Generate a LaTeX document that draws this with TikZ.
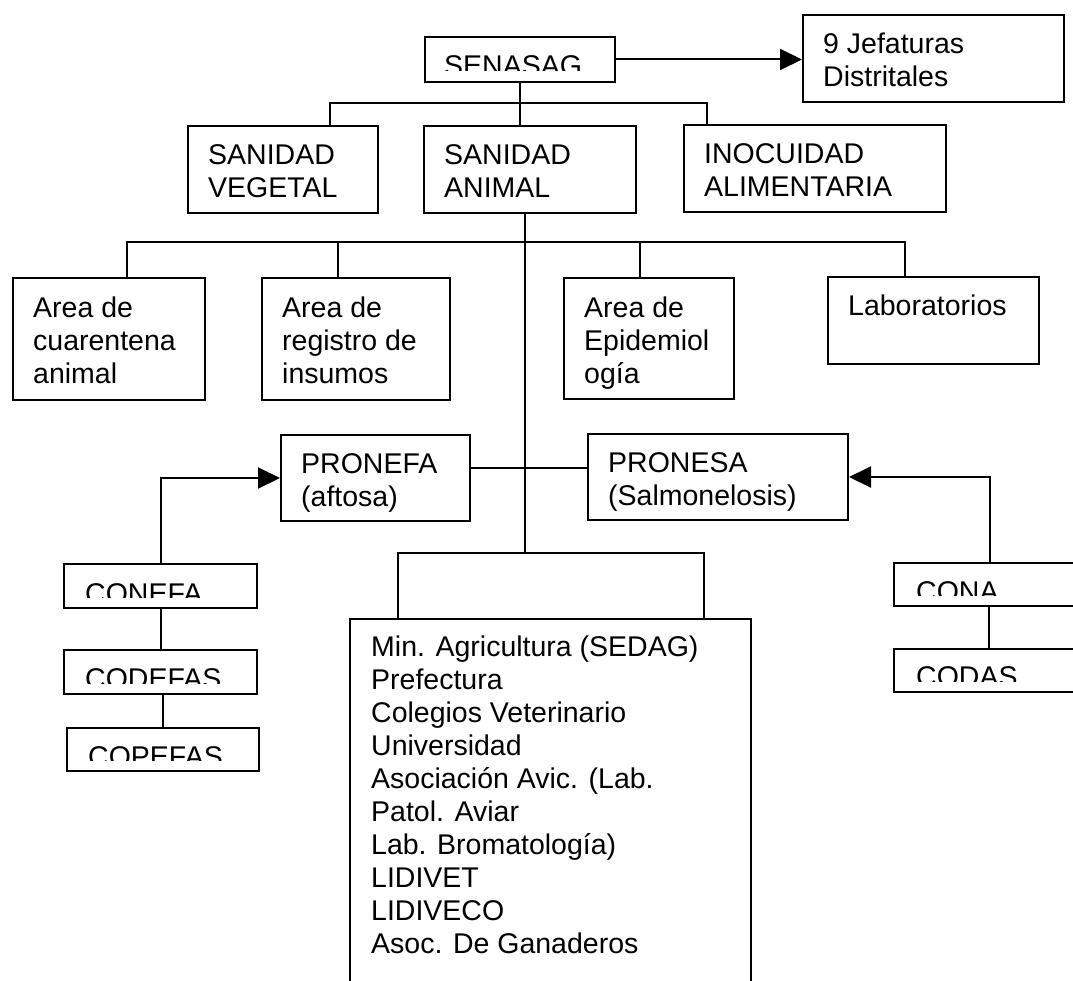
\documentclass[tikz,border=0pt]{standalone}
\usepackage{fontspec}
\setmainfont{Liberation Sans}
\usetikzlibrary{arrows.meta,positioning,calc}

\tikzset{
  orgbox/.style={draw, line width=2pt, anchor=north west, inner sep=0pt},
  txt/.style={anchor=north west, align=left, inner sep=0pt},
  conn/.style={line width=2pt},
  arr/.style={line width=2pt, -{Triangle[length=22pt,width=21pt]}}
}

\begin{document}
\begin{tikzpicture}[x=1pt, y=-1pt, font=\fontsize{28.5}{33}\selectfont]
      \clip (0,0) rectangle (1073,981);
      \fill[white] (0,0) rectangle (1073,981);
      %boxes
      \node[orgbox, minimum width=190pt, minimum height=45pt] (senasag) at (424,36) {};
      \node[orgbox, minimum width=261pt, minimum height=87pt] (jefaturas) at (802,14) {};
      \node[orgbox, minimum width=190pt, minimum height=87pt] (vegetal) at (187,125) {};
      \node[orgbox, minimum width=212pt, minimum height=87pt] (animal) at (423,125) {};
      \node[orgbox, minimum width=262pt, minimum height=87pt] (inocuidad) at (683,124) {};
      \node[orgbox, minimum width=192pt, minimum height=122pt] (cuarentena) at (12,277) {};
      \node[orgbox, minimum width=188pt, minimum height=122pt] (registro) at (261,277) {};
      \node[orgbox, minimum width=170pt, minimum height=121pt] (epidemio) at (563,277) {};
      \node[orgbox, minimum width=211pt, minimum height=87pt] (laboratorios) at (827,276) {};
      \node[orgbox, minimum width=189pt, minimum height=86pt] (pronefa) at (280,434) {};
      \node[orgbox, minimum width=260pt, minimum height=86pt] (pronesa) at (587,433) {};
      \node[orgbox, minimum width=193pt, minimum height=44pt] (conefa) at (63,563) {};
      \node[orgbox, minimum width=193pt, minimum height=44pt] (codefas) at (63,649) {};
      \node[orgbox, minimum width=192pt, minimum height=43pt] (copefas) at (66,727) {};
      \node[orgbox, minimum width=200pt, minimum height=43pt] (cona) at (893,562) {};
      \node[orgbox, minimum width=200pt, minimum height=43pt] (codas) at (893,648) {};
      \node[orgbox, minimum width=401pt, minimum height=400pt] (members) at (349,618) {};
      %texts
      \node[txt] (jefaturas-t) at ([shift={(21pt,-19pt)}]jefaturas.north west) {9 Jefaturas\\Distritales};
      \node[txt] (vegetal-t) at ([shift={(21pt,-19pt)}]vegetal.north west) {SANIDAD\\VEGETAL};
      \node[txt] (animal-t) at ([shift={(21pt,-19pt)}]animal.north west) {SANIDAD\\ANIMAL};
      \node[txt] (inocuidad-t) at ([shift={(21pt,-19pt)}]inocuidad.north west) {INOCUIDAD\\ALIMENTARIA};
      \node[txt] (cuarentena-t) at ([shift={(21pt,-20pt)}]cuarentena.north west) {Area de\\cuarentena\\animal};
      \node[txt] (registro-t) at ([shift={(21pt,-20pt)}]registro.north west) {Area de\\registro de\\insumos};
      \node[txt] (epidemio-t) at ([shift={(21pt,-20pt)}]epidemio.north west) {Area de\\Epidemiol\\ogía};
      \node[txt] (laboratorios-t) at ([shift={(21pt,-19pt)}]laboratorios.north west) {Laboratorios};
      \node[txt] (pronefa-t) at ([shift={(21pt,-19pt)}]pronefa.north west) {PRONEFA\\(aftosa)};
      \node[txt] (pronesa-t) at ([shift={(21pt,-19pt)}]pronesa.north west) {PRONESA\\(Salmonelosis)};
      \node[txt] (members-t) at ([shift={(22pt,-18pt)}]members.north west)
        {Min. Agricultura (SEDAG)\\Prefectura\\Colegios Veterinario\\Universidad\\Asociación Avic. (Lab.\\Patol. Aviar\\Lab. Bromatología)\\LIDIVET\\LIDIVECO\\Asoc. De Ganaderos};
      % cut-off one-line boxes
      \begin{scope}
        \clip (senasag.north west) rectangle ([yshift=12pt]senasag.south east)
              (conefa.north west) rectangle ([yshift=12pt]conefa.south east)
              (codefas.north west) rectangle ([yshift=12pt]codefas.south east)
              (copefas.north west) rectangle ([yshift=12pt]copefas.south east)
              (cona.north west) rectangle ([yshift=12pt]cona.south east)
              (codas.north west) rectangle ([yshift=12pt]codas.south east);
        \node[txt] (senasag-t) at ([shift={(20pt,-19pt)}]senasag.north west) {SENASAG};
        \node[txt] (conefa-t) at ([shift={(22pt,-20pt)}]conefa.north west) {CONEFA};
        \node[txt] (codefas-t) at ([shift={(22pt,-19pt)}]codefas.north west) {CODEFAS};
        \node[txt] (copefas-t) at ([shift={(22pt,-19pt)}]copefas.north west) {COPEFAS};
        \node[txt] (cona-t) at ([shift={(23pt,-19pt)}]cona.north west) {CONA};
        \node[txt] (codas-t) at ([shift={(23pt,-18pt)}]codas.north west) {CODAS};
      \end{scope}
      %junctions
      \coordinate (bus1) at (519,103);
      \coordinate (bus2) at (525,242);
      \coordinate (hub) at (525,553);
      %edges
      \draw[arr] (senasag.east) -- (senasag.east -| jefaturas.west);
      \draw[conn] (senasag.south) -- (senasag.south |- animal.north);
      \draw[conn] ([xshift=143pt]vegetal.north west) |- (bus1) -| ([xshift=24pt]inocuidad.north west);
      \draw[conn] (hub |- animal.south) -- (hub);
      \draw[conn] ([xshift=115pt]cuarentena.north west) |- (bus2) -| ([xshift=78pt]laboratorios.north west);
      \draw[conn] ([xshift=77pt]registro.north west) -- ([xshift=77pt]registro.north west |- bus2);
      \draw[conn] ([xshift=77pt]epidemio.north west) -- ([xshift=77pt]epidemio.north west |- bus2);
      \draw[conn] ([yshift=10pt]pronefa.east) -- ([yshift=10pt]pronefa.east -| pronesa.west);
      \draw[conn] ([xshift=49pt]members.north west) |- (hub) -| ([xshift=355pt]members.north west);
      \draw[arr] (conefa.north) |- (pronefa.west);
      \draw[conn] (conefa.south) -- (conefa.south |- codefas.north);
      \draw[conn] (copefas.north) -- (copefas.north |- codefas.south);
      \draw[arr] ([xshift=97pt]cona.north west) |- (pronesa.east);
      \draw[conn] ([xshift=96pt]cona.south west) -- ([xshift=96pt]codas.north west);
\end{tikzpicture}
\end{document}
